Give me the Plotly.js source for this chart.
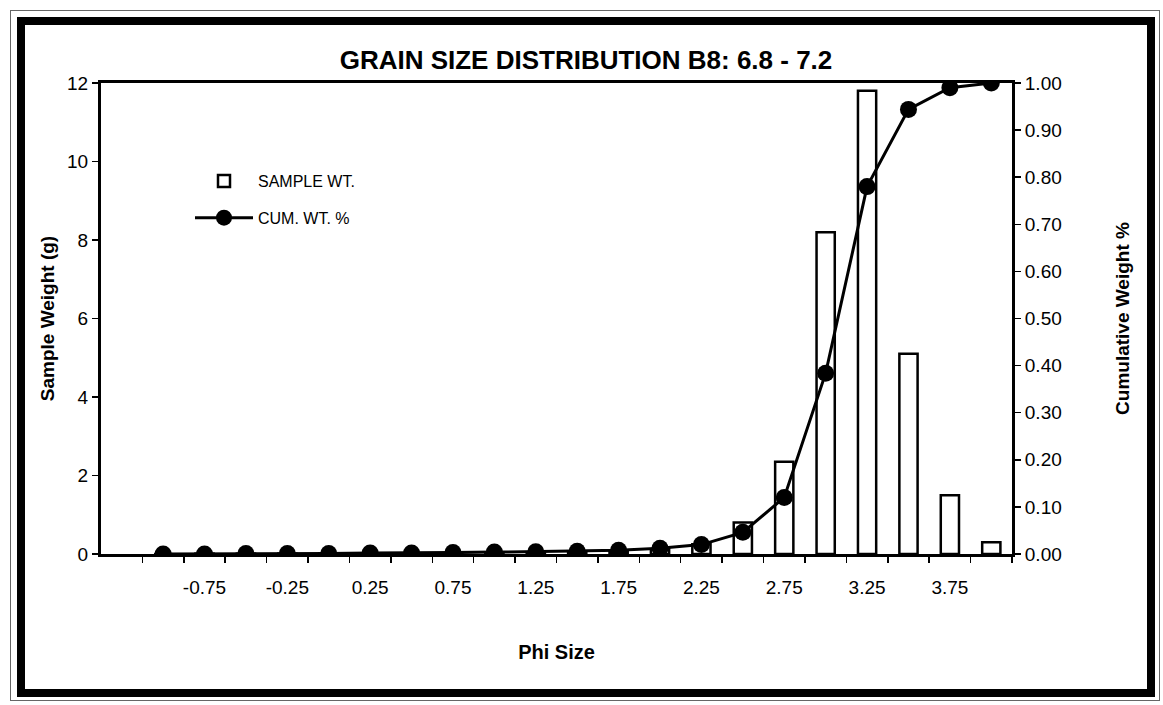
<!DOCTYPE html>
<html>
<head>
<meta charset="utf-8">
<script src="https://cdn.plot.ly/plotly-3.0.1.min.js"></script>
<style>
  html, body { margin: 0; padding: 0; background: #ffffff; }
  #wrap { position: relative; width: 1163px; height: 705px; overflow: hidden; }
  #chart { position: absolute; left: 0; top: 0; width: 1163px; height: 705px; }
  .frame { position: absolute; box-sizing: border-box; pointer-events: none; }
  #thin { left: 10px; top: 10px; width: 1150px; height: 691px; border: 1px solid #666; }
  #thick { left: 17px; top: 17px; width: 1138px; height: 680px; border: 8px solid #000; }
</style>
</head>
<body>
<div id="wrap">
  <div id="chart"></div>
  <div class="frame" id="thin"></div>
  <div class="frame" id="thick"></div>
</div>
<script>
// ---- data ----
const phiSize = [-1.00, -0.75, -0.50, -0.25, 0.00, 0.25, 0.50, 0.75, 1.00, 1.25, 1.50,
                 1.75, 2.00, 2.25, 2.50, 2.75, 3.00, 3.25, 3.50, 3.75, 4.00];
const sampleWt = [0.00, 0.01, 0.01, 0.01, 0.01, 0.01, 0.02, 0.02, 0.03, 0.03, 0.04,
                  0.06, 0.12, 0.25, 0.80, 2.35, 8.20, 11.80, 5.10, 1.50, 0.30];
const cumWt = [0.000, 0.000, 0.001, 0.001, 0.001, 0.002, 0.002, 0.003, 0.004, 0.005, 0.006,
               0.008, 0.012, 0.020, 0.046, 0.120, 0.384, 0.780, 0.944, 0.990, 1.000];
const xTickVals = [-0.75, -0.25, 0.25, 0.75, 1.25, 1.75, 2.25, 2.75, 3.25, 3.75];
const xTickText = ["-0.75", "-0.25", "0.25", "0.75", "1.25", "1.75", "2.25", "2.75", "3.25", "3.75"];
const xBoundaries = [-1.125, -0.875, -0.625, -0.375, -0.125, 0.125, 0.375, 0.625, 0.875, 1.125,
                     1.375, 1.625, 1.875, 2.125, 2.375, 2.625, 2.875, 3.125, 3.375, 3.625, 3.875, 4.125];

const FONT = "Arial, 'Liberation Sans', Helvetica, sans-serif";

const traces = [
  {
    type: "bar",
    name: "SAMPLE WT.",
    x: phiSize,
    y: sampleWt,
    width: 0.11,
    marker: { color: "#ffffff", line: { color: "#000000", width: 2.5 } },
    legendgroup: "a",
    hoverinfo: "x+y"
  },
  {
    type: "scatter",
    mode: "lines+markers",
    name: "CUM. WT. %",
    x: phiSize,
    y: cumWt,
    yaxis: "y2",
    line: { color: "#000000", width: 3 },
    marker: { color: "#000000", size: 17 },
    legendgroup: "b",
    hoverinfo: "x+y"
  }
];

const layout = {
  width: 1163,
  height: 705,
  margin: { l: 101, r: 151, t: 83, b: 151 },
  paper_bgcolor: "#ffffff",
  plot_bgcolor: "#ffffff",
  font: { family: FONT, color: "#000000", size: 19 },
  title: {
    text: "<b>GRAIN SIZE DISTRIBUTION B8: 6.8 - 7.2</b>",
    font: { family: FONT, size: 26, color: "#000000" },
    x: 586 / 1163,
    xref: "container",
    xanchor: "center",
    y: 1 - 60 / 705,
    yref: "container",
    yanchor: "middle"
  },
  showlegend: true,
  legend: {
    x: (190 - 101) / 911,
    y: (554 - 164) / 471,
    xanchor: "left",
    yanchor: "top",
    bgcolor: "rgba(0,0,0,0)",
    font: { family: FONT, size: 16, color: "#000000" },
    itemwidth: 58,
    traceorder: "grouped",
    tracegroupgap: 13
  },
  bargap: 0,
  xaxis: {
    type: "linear",
    range: [-1.375, 4.125],
    showgrid: false,
    zeroline: false,
    showline: true,
    linecolor: "#000000",
    linewidth: 3,
    mirror: true,
    tickmode: "array",
    tickvals: xTickVals,
    ticktext: xTickText,
    ticks: "outside",
    ticklen: 14,
    tickcolor: "rgba(0,0,0,0)",
    tickfont: { family: FONT, size: 19, color: "#000000" },
    minor: {
      tickmode: "array",
      tickvals: xBoundaries,
      ticks: "outside",
      ticklen: 6,
      tickwidth: 1.5,
      tickcolor: "#000000",
      showgrid: false
    },
    title: {
      text: "<b>Phi Size</b>",
      font: { family: FONT, size: 20, color: "#000000" },
      standoff: 49
    }
  },
  yaxis: {
    range: [0, 12],
    tickmode: "linear",
    tick0: 0,
    dtick: 2,
    showgrid: false,
    zeroline: false,
    showline: true,
    linecolor: "#000000",
    linewidth: 3,
    ticks: "outside",
    ticklen: 6,
    tickwidth: 1.5,
    tickcolor: "#000000",
    tickfont: { family: FONT, size: 19, color: "#000000" },
    title: {
      text: "<b>Sample Weight (g)</b>",
      font: { family: FONT, size: 19, color: "#000000" },
      standoff: 8
    }
  },
  yaxis2: {
    overlaying: "y",
    side: "right",
    range: [0, 1],
    tickmode: "linear",
    tick0: 0,
    dtick: 0.1,
    tickformat: ".2f",
    showgrid: false,
    zeroline: false,
    showline: true,
    linecolor: "#000000",
    linewidth: 3,
    ticks: "outside",
    ticklen: 6,
    tickwidth: 1.5,
    tickcolor: "#000000",
    tickfont: { family: FONT, size: 19, color: "#000000" },
    title: {
      text: "<b>Cumulative Weight %</b>",
      font: { family: FONT, size: 19, color: "#000000" },
      standoff: 55
    }
  }
};

Plotly.newPlot("chart", traces, layout, { displayModeBar: false, staticPlot: true });
</script>
</body>
</html>
